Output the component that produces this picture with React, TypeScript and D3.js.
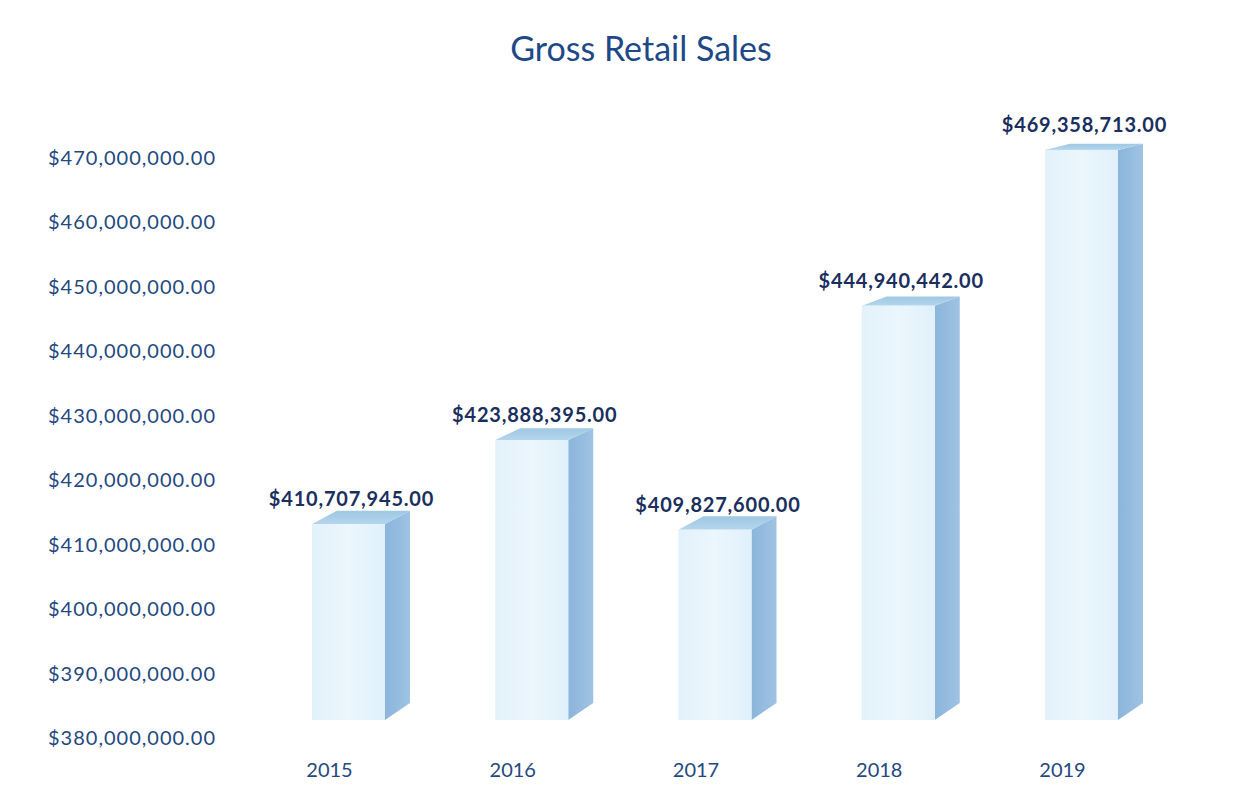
import React from "react";
import * as d3 from "d3";

const years = ["2015", "2016", "2017", "2018", "2019"];
const sales = [410707945, 423888395, 409827600, 444940442, 469358713];
const axisTicks = [380e6, 390e6, 400e6, 410e6, 420e6, 430e6, 440e6, 450e6, 460e6, 470e6];
const title = "Gross Retail Sales";

const W = 1257;
const H = 800;
const fmt = (v: number) => "$" + d3.format(",.2f")(v);

export default function App() {
  const x = d3.scalePoint<string>().domain(years).range([348.5, 1081.5]);
  const yBar = d3.scaleLinear().domain([380e6, 470e6]).range([720, 145.8]);
  const yAxis = d3.scaleLinear().domain([380e6, 470e6]).range([738, 158]);
  const barW = 73;
  const dx = 25;
  const depth = (y: number) => 6 + (11 * (y - 145)) / 575;
  const font = "Lato, 'Open Sans', sans-serif";
  const pts = (p: number[][]) => p.map((q) => q.join(",")).join(" ");

  return (
    <svg width={W} height={H} style={{ position: "absolute", left: 0, top: 0, background: "#fff" }}>
      <defs>
        <linearGradient id="front" x1="0" y1="0" x2="1" y2="0">
          <stop offset="0" stopColor="#e3f1fa" />
          <stop offset="0.5" stopColor="#ebf6fd" />
          <stop offset="1" stopColor="#e0f0fa" />
        </linearGradient>
        <linearGradient id="side" x1="0" y1="0" x2="1" y2="0">
          <stop offset="0" stopColor="#8bb5db" />
          <stop offset="1" stopColor="#9fc3e3" />
        </linearGradient>
        <linearGradient id="top" x1="0" y1="1" x2="0" y2="0">
          <stop offset="0" stopColor="#b3d6ec" />
          <stop offset="1" stopColor="#9fc8e3" />
        </linearGradient>
      </defs>
      <rect width={W} height={H} fill="#fff" />
      <text x={641} y={61} textAnchor="middle" fontFamily={font} fontSize={34} fill="#1e4887">
        {title}
      </text>
      <g fontFamily={font} fontSize={20} fill="#24497f">
        {axisTicks.map((t) => (
          <text key={t} x={216} y={yAxis(t)} dy="0.35em" textAnchor="end" letterSpacing={1}>
            {fmt(t)}
          </text>
        ))}
      </g>
      {years.map((yr, i) => {
        const cx = x(yr)!;
        const xl = cx - barW / 2;
        const xr = cx + barW / 2;
        const yt = yBar(sales[i]);
        const yb = yBar(380e6);
        const dt = depth(yt);
        const db = depth(yb);
        return (
          <g key={yr}>
            <polygon points={pts([[xr, yt], [xr + dx, yt - dt], [xr + dx, yb - db], [xr, yb]])} fill="url(#side)" />
            <polygon points={pts([[xl, yt], [xl + dx, yt - dt], [xr + dx, yt - dt], [xr, yt]])} fill="url(#top)" />
            <rect x={xl} y={yt} width={barW} height={yb - yt} fill="url(#front)" />
            <text
              x={cx + 3}
              y={yt - 18}
              textAnchor="middle"
              fontFamily={font}
              fontWeight="bold"
              fontSize={20}
              letterSpacing={0.8}
              fill="#1b2f5e"
            >
              {fmt(sales[i])}
            </text>
            <text x={cx - 19} y={777} textAnchor="middle" fontFamily={font} fontSize={20} fill="#24497f">
              {yr}
            </text>
          </g>
        );
      })}
    </svg>
  );
}
